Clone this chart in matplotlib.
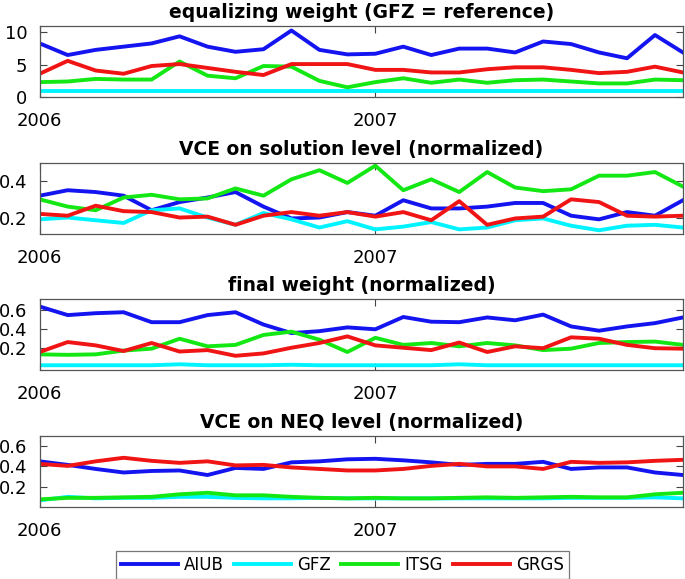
import matplotlib
matplotlib.use("Agg")
import matplotlib.pyplot as plt
import numpy as np

plt.rcParams["font.family"] = ["DejaVu Sans"]

# months since Jan 2006
months = np.arange(24)
year_ticks = [0, 12]
year_labels = ["2006", "2007"]

names = ["AIUB", "GFZ", "ITSG", "GRGS"]
colors = ["#1414f0", "#00f4ff", "#14e814", "#f01414"]

titles = [
    "equalizing weight (GFZ = reference)",
    "VCE on solution level (normalized)",
    "final weight (normalized)",
    "VCE on NEQ level (normalized)",
]

# panel 1: equalizing weight
eq_aiub = [8.3, 6.5, 7.3, 7.8, 8.3, 9.4, 7.8, 7.0, 7.4, 10.3, 7.3, 6.6,
           6.7, 7.8, 6.5, 7.5, 7.5, 6.9, 8.6, 8.2, 6.9, 6.0, 9.6, 6.9]
eq_gfz = [1.0] * 24
eq_itsg = [2.3, 2.4, 2.8, 2.7, 2.7, 5.5, 3.3, 2.9, 4.8, 4.7, 2.5, 1.5,
           2.3, 2.9, 2.2, 2.7, 2.2, 2.6, 2.7, 2.4, 2.1, 2.1, 2.7, 2.6]
eq_grgs = [3.6, 5.6, 4.1, 3.6, 4.8, 5.1, 4.5, 3.9, 3.4, 5.1, 5.1, 5.1,
           4.2, 4.2, 3.8, 3.8, 4.3, 4.6, 4.6, 4.2, 3.7, 3.9, 4.7, 3.8]

# panel 2: VCE on solution level
sol_aiub = [0.32, 0.35, 0.34, 0.32, 0.24, 0.285, 0.31, 0.34, 0.26, 0.195, 0.20, 0.23,
            0.21, 0.295, 0.25, 0.25, 0.26, 0.28, 0.28, 0.21, 0.19, 0.23, 0.21, 0.295]
sol_gfz = [0.19, 0.20, 0.185, 0.17, 0.24, 0.25, 0.20, 0.16, 0.225, 0.19, 0.145, 0.18,
           0.135, 0.15, 0.175, 0.135, 0.145, 0.185, 0.195, 0.155, 0.13, 0.155, 0.16, 0.145]
sol_itsg = [0.30, 0.26, 0.24, 0.31, 0.325, 0.30, 0.305, 0.36, 0.32, 0.41, 0.46, 0.39,
            0.485, 0.35, 0.41, 0.34, 0.45, 0.365, 0.345, 0.355, 0.43, 0.43, 0.45, 0.37]
sol_grgs = [0.22, 0.21, 0.265, 0.235, 0.23, 0.20, 0.205, 0.16, 0.21, 0.23, 0.21, 0.23,
            0.205, 0.23, 0.185, 0.29, 0.16, 0.195, 0.205, 0.30, 0.285, 0.21, 0.205, 0.21]

# panel 3: final weight
fin_aiub = [0.64, 0.55, 0.57, 0.58, 0.475, 0.475, 0.55, 0.58, 0.45, 0.36, 0.38, 0.42,
            0.40, 0.53, 0.48, 0.475, 0.525, 0.495, 0.555, 0.43, 0.385, 0.43, 0.465, 0.525]
fin_gfz = [0.02, 0.02, 0.02, 0.02, 0.02, 0.03, 0.02, 0.02, 0.02, 0.025, 0.02, 0.02,
           0.02, 0.02, 0.02, 0.03, 0.02, 0.02, 0.02, 0.02, 0.02, 0.02, 0.02, 0.02]
fin_itsg = [0.135, 0.13, 0.135, 0.175, 0.195, 0.30, 0.22, 0.235, 0.34, 0.375, 0.29, 0.16,
            0.31, 0.235, 0.255, 0.22, 0.255, 0.23, 0.18, 0.195, 0.255, 0.265, 0.27, 0.235]
fin_grgs = [0.16, 0.265, 0.23, 0.17, 0.255, 0.165, 0.18, 0.12, 0.145, 0.205, 0.255, 0.325,
            0.23, 0.205, 0.18, 0.26, 0.16, 0.22, 0.20, 0.315, 0.30, 0.235, 0.20, 0.195]

# panel 4: VCE on NEQ level
neq_aiub = [0.45, 0.415, 0.375, 0.34, 0.355, 0.36, 0.315, 0.385, 0.375, 0.44, 0.45, 0.47,
            0.475, 0.46, 0.44, 0.415, 0.425, 0.425, 0.445, 0.375, 0.39, 0.39, 0.34, 0.315]
neq_gfz = [0.065, 0.10, 0.085, 0.09, 0.09, 0.10, 0.10, 0.09, 0.085, 0.085, 0.09, 0.085,
           0.085, 0.085, 0.085, 0.085, 0.085, 0.085, 0.085, 0.09, 0.09, 0.09, 0.095, 0.085]
neq_itsg = [0.075, 0.09, 0.09, 0.095, 0.10, 0.125, 0.14, 0.115, 0.115, 0.10, 0.09, 0.085,
            0.09, 0.085, 0.085, 0.09, 0.095, 0.09, 0.095, 0.10, 0.095, 0.095, 0.125, 0.14]
neq_grgs = [0.425, 0.405, 0.45, 0.485, 0.455, 0.435, 0.45, 0.41, 0.415, 0.39, 0.375, 0.36,
            0.36, 0.375, 0.405, 0.425, 0.40, 0.40, 0.375, 0.445, 0.435, 0.44, 0.455, 0.465]

panels = [
    [eq_aiub, eq_gfz, eq_itsg, eq_grgs],
    [sol_aiub, sol_gfz, sol_itsg, sol_grgs],
    [fin_aiub, fin_gfz, fin_itsg, fin_grgs],
    [neq_aiub, neq_gfz, neq_itsg, neq_grgs],
]
ylims = [(0, 11), (0.11, 0.5), (-0.03, 0.72), (0, 0.7)]
yticks = [[0, 5, 10], [0.2, 0.4], [0.2, 0.4, 0.6], [0.2, 0.4, 0.6]]
ytick_labels = [["0", "5", "10"], ["0.2", "0.4"], ["0.2", "0.4", "0.6"], ["0.2", "0.4", "0.6"]]

fig = plt.figure(figsize=(6.85, 5.79), dpi=100)
bottoms = [0.8325, 0.596, 0.361, 0.1244]
h = 0.1226
handles = []
for k in range(4):
    ax = fig.add_axes([0.058, bottoms[k], 0.939, h])
    for j in range(4):
        ln, = ax.plot(months, panels[k][j], color=colors[j], lw=2.8, label=names[j])
        if k == 0:
            handles.append(ln)
    ax.set_xlim(0, 23)
    ax.set_ylim(*ylims[k])
    ax.set_xticks(year_ticks)
    ax.set_xticklabels(year_labels)
    ax.set_yticks(yticks[k])
    ax.set_yticklabels(ytick_labels[k])
    ax.tick_params(direction="in", top=True, right=True, labelsize=13,
                   length=5, width=0.8, color="#444444")
    ax.tick_params(axis="x", pad=11)
    ax.tick_params(axis="y", pad=9)
    for s in ax.spines.values():
        s.set_color("#555555")
        s.set_linewidth(0.9)
    ax.set_title(titles[k], fontsize=13.5, fontweight="bold", pad=6)

leg = fig.legend(handles=handles, labels=names, loc="center", ncol=4,
                 bbox_to_anchor=(0.5, 0.025), fontsize=12, handlelength=3.4,
                 frameon=True, fancybox=False, borderpad=0.3, columnspacing=0.6,
                 handletextpad=0.4)
leg.get_frame().set_edgecolor("#555555")
leg.get_frame().set_linewidth(0.9)

fig.savefig("out.png", dpi=100)
